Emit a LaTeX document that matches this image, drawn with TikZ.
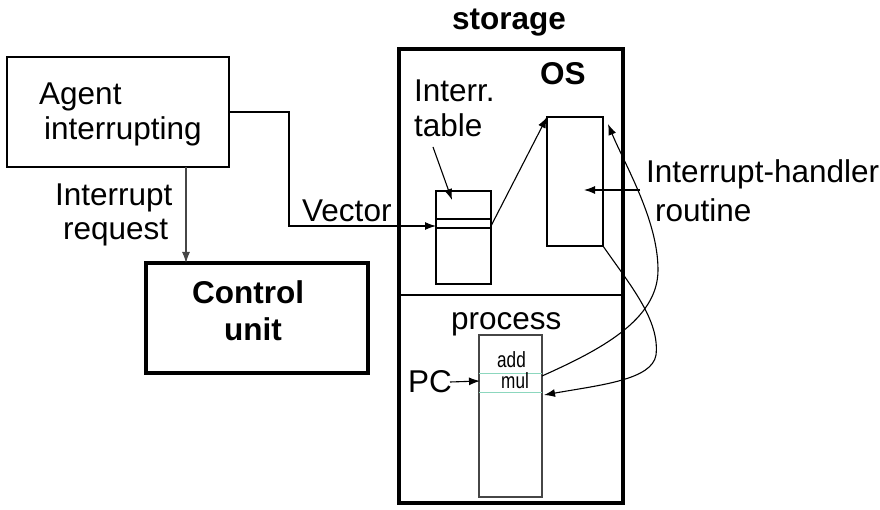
\documentclass[tikz,border=0pt]{standalone}
\usepackage{fontspec}
\setmainfont{Liberation Sans}
\usetikzlibrary{arrows.meta}
\definecolor{tealline}{RGB}{140,215,190}
\definecolor{greyline}{RGB}{70,70,70}
\tikzset{
  txt/.style={anchor=base west,inner sep=0pt,font=\fontsize{31.5}{36}\selectfont},
  btxt/.style={txt,font=\fontsize{31.5}{36}\selectfont\bfseries},
  stxt/.style={anchor=base west,inner sep=0pt,font=\fontsize{22}{26}\selectfont},
  thinbox/.style={draw,line width=1.2pt},
  thickbox/.style={draw,line width=3.6pt},
  conn/.style={line width=1.1pt,-{Latex[length=11pt,width=8pt]}},
  plain/.style={line width=1.1pt}
}
\begin{document}
\begin{tikzpicture}[x=1pt,y=-1pt]
\useasboundingbox (0,0) rectangle (880,510);
% storage
\draw[thickbox] (399,49) rectangle (623,503);
\draw[line width=2pt] (623,49) -- (623,503);
\coordinate (divL) at (399,295);
\coordinate (divR) at (623,295);
\draw[plain] (divL) -- (divR);
\node[btxt] (storage) at (452,30) {storage};
\node[btxt] (os) at (540,85) {OS};
% agent
\draw[thinbox] (7,57) rectangle (229,167);
\coordinate (agentB) at (186,167);
\coordinate (agentR) at (229,112);
\node[txt] (agent1) at (39,105) {Agent};
\node[txt] (agent2) at (44,140) {interrupting};
% control unit
\draw[line width=3.2pt] (146,263) rectangle (368,373);
\coordinate (ctrlT) at (186,263);
\node[btxt] (ctrl1) at (192,304) {Control};
\node[btxt] (ctrl2) at (224,340) {unit};
\draw[conn,greyline] (agentB) -- (ctrlT);
\node[txt] (ir1) at (55,206) {Interrupt};
\node[txt] (ir2) at (63,240) {request};
% vector
\coordinate (tabIn) at (436,226);
\draw[conn] (agentR) -- (289,112) -- (289,226) -- (tabIn);
\node[txt] (vec) at (302,222) {Vector};
% interrupt table
\draw[thinbox] (436,191) rectangle (491,284);
\draw[plain] (436,219) -- (491,219);
\draw[plain] (436,228) -- (491,228);
\coordinate (tabOut) at (491,226);
\coordinate (tabTop) at (452,200);
\node[txt] (it1) at (414,102) {Interr.};
\node[txt] (it2) at (414,137) {table};
\coordinate (tabLbl) at (433,147);
\draw[conn] (tabLbl) -- (tabTop);
% handler
\draw[thinbox] (547,117) rectangle (603,246);
\coordinate (hTL) at (547,117);
\coordinate (hTR) at (608,124);
\coordinate (hBR) at (603,246);
\coordinate (hMid) at (584,190);
\draw[conn] (tabOut) -- (hTL);
\node[txt] (ih1) at (646,183) {Interrupt-handler};
\node[txt] (ih2) at (655,222) {routine};
\coordinate (ihStart) at (640,190);
\draw[conn] (ihStart) -- (hMid);
% process
\node[txt] (proc) at (451,330) {process};
\draw[draw=greyline,line width=1.2pt] (479,335) rectangle (542,497);
\draw[tealline,line width=1pt] (479,373) -- (542,373);
\draw[tealline,line width=1pt] (479,392) -- (542,392);
\node[stxt] (add) at (497,367) {\scalebox{0.78}[1]{add}};
\node[stxt] (mul) at (501,388) {\scalebox{0.78}[1]{mul}};
\node[txt] (pc) at (408,392) {PC};
\coordinate (pcA) at (450,382);
\coordinate (pcB) at (480,381);
\draw[conn] (pcA) -- (pcB);
% curves
\coordinate (mulR) at (542,376);
\coordinate (mulIn) at (544,395);
\draw[conn] (mulR) .. controls (600,350) and (658,320) .. (658,270)
  .. controls (658,220) and (625,165) .. (hTR);
\draw[conn] (hBR) .. controls (630,285) and (660,320) .. (656,355)
  .. controls (652,380) and (600,385) .. (mulIn);
\end{tikzpicture}
\end{document}
